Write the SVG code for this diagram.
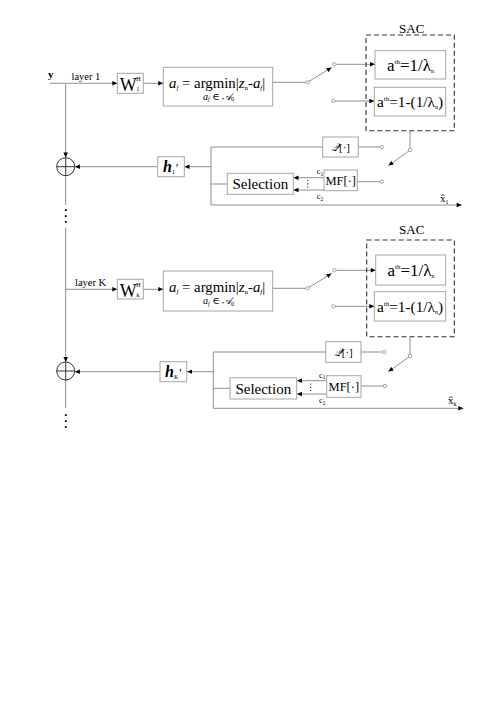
<svg xmlns="http://www.w3.org/2000/svg" width="496" height="701" viewBox="0 0 496 701">
<defs>
<marker id="ah" viewBox="0 0 10 10" refX="10" refY="5" markerWidth="5.5" markerHeight="5" markerUnits="userSpaceOnUse" orient="auto"><path d="M0,0.5 L10,5 L0,9.5 z" fill="#000"/></marker>
<style>
.ln{stroke:#8f8f8f;stroke-width:1;fill:none}
.bx{fill:#fff;stroke:#a6a6a6;stroke-width:1}
.sw{fill:#fff;stroke:#8f8f8f;stroke-width:0.8}
.dash{fill:none;stroke:#333;stroke-width:1.1;stroke-dasharray:5 3}
.t{font-family:"Liberation Serif","DejaVu Serif",serif;fill:#000}
.it{font-style:italic}
.dot{fill:#000}
</style>
</defs>
<rect width="496" height="701" fill="#fff"/>

<g id="connectors">
<path class="ln" d="M50,83.3 H117.3" marker-end="url(#ah)"/>
<path class="ln" d="M65.7,83.3 V157.6" marker-end="url(#ah)"/>
<path class="ln" d="M65.7,175.7 V205"/>
<path class="ln" d="M65.7,227.5 V362" marker-end="url(#ah)"/>
<path class="ln" d="M65.7,289.3 H117.3" marker-end="url(#ah)"/>
<path class="ln" d="M65.7,380 V408"/>
<path class="ln" d="M143.3,83.3 H163.3" marker-end="url(#ah)"/>
<path class="ln" d="M272.7,82.3 H306"/>
<path class="ln" d="M309,81.4 L331.6,67.6" marker-end="url(#ah)"/>
<path class="ln" d="M336,64.3 H375" marker-end="url(#ah)"/>
<path class="ln" d="M335,101 H374.3" marker-end="url(#ah)"/>
<path class="ln" d="M410,130.7 V148.3"/>
<path class="ln" d="M408.8,151.1 L388.4,165.6" marker-end="url(#ah)"/>
<path class="ln" d="M322.7,147 H211 V205"/>
<path class="ln" d="M358.3,147 H380"/>
<path class="ln" d="M211,166.7 H184.5" marker-end="url(#ah)"/>
<path class="ln" d="M157.7,166.7 H74.9" marker-end="url(#ah)"/>
<path class="ln" d="M211,184 H227.3"/>
<path class="ln" d="M324,177.7 H293.5" marker-end="url(#ah)"/>
<path class="ln" d="M324,190 H293.5" marker-end="url(#ah)"/>
<path class="ln" d="M357.3,181.7 H380"/>
<path class="ln" d="M211,205 H461.7" marker-end="url(#ah)"/>
<path class="ln" d="M143.3,289.3 H163.3" marker-end="url(#ah)"/>
<path class="ln" d="M272.7,288.3 H306"/>
<path class="ln" d="M309,287.4 L331.6,273.5" marker-end="url(#ah)"/>
<path class="ln" d="M336,270.3 H375.7" marker-end="url(#ah)"/>
<path class="ln" d="M335,306.3 H374.3" marker-end="url(#ah)"/>
<path class="ln" d="M410,336.7 V354.3"/>
<path class="ln" d="M408.8,357.1 L388.4,371.6" marker-end="url(#ah)"/>
<path class="ln" d="M325.7,352 H213.3 V408.3"/>
<path class="ln" d="M361,352 H382.6"/>
<path class="ln" d="M213.3,371.7 H187.2" marker-end="url(#ah)"/>
<path class="ln" d="M160,371.7 H74.9" marker-end="url(#ah)"/>
<path class="ln" d="M213.3,388.3 H230"/>
<path class="ln" d="M326.7,380.7 H296.9" marker-end="url(#ah)"/>
<path class="ln" d="M326.7,394 H296.9" marker-end="url(#ah)"/>
<path class="ln" d="M361,386 H383.3"/>
<path class="ln" d="M213.3,408.3 H463.3" marker-end="url(#ah)"/>
<circle class="sw" cx="307.7" cy="82.3" r="1.7"/>
<circle class="sw" cx="334.3" cy="64.3" r="1.7"/>
<circle class="sw" cx="333.3" cy="101" r="1.7"/>
<circle class="sw" cx="410" cy="150" r="1.7"/>
<circle class="sw" cx="381.7" cy="147" r="1.7"/>
<circle class="sw" cx="381.7" cy="181.7" r="1.7"/>
<circle class="sw" cx="307.7" cy="288.3" r="1.7"/>
<circle class="sw" cx="334.3" cy="270.3" r="1.7"/>
<circle class="sw" cx="333.3" cy="306.3" r="1.7"/>
<circle class="sw" cx="410" cy="356" r="1.7"/>
<circle class="sw" cx="384.3" cy="352" r="1.7"/>
<circle class="sw" cx="385" cy="386" r="1.7"/>
<rect class="dot" x="64.9" y="209.2" width="1.8" height="1.8"/>
<rect class="dot" x="64.9" y="215.2" width="1.8" height="1.8"/>
<rect class="dot" x="64.9" y="221" width="1.8" height="1.8"/>
<rect class="dot" x="64.9" y="414.2" width="1.8" height="1.8"/>
<rect class="dot" x="64.9" y="420.2" width="1.8" height="1.8"/>
<rect class="dot" x="64.9" y="426.2" width="1.8" height="1.8"/>
<circle class="dot" cx="307.7" cy="180.5" r="0.6"/>
<circle class="dot" cx="307.7" cy="183.8" r="0.6"/>
<circle class="dot" cx="307.7" cy="187.1" r="0.6"/>
<circle class="dot" cx="310.7" cy="384" r="0.6"/>
<circle class="dot" cx="310.7" cy="387.3" r="0.6"/>
<circle class="dot" cx="310.7" cy="390.6" r="0.6"/>
</g>

<g id="labels" class="t">
<text x="48" y="78" font-size="11" font-weight="bold">y</text>
<text x="71.5" y="80" font-size="10.5">layer 1</text>
<text x="75" y="286" font-size="10.5">layer K</text>
<text x="316.7" y="174" font-size="8.5">c<tspan font-size="5.5" dy="1.5">1</tspan></text>
<text x="316.7" y="199" font-size="8.5">c<tspan font-size="5.5" dy="1.5">2</tspan></text>
<text x="319" y="377.5" font-size="8.5">c<tspan font-size="5.5" dy="1.5">1</tspan></text>
<text x="319" y="403" font-size="8.5">c<tspan font-size="5.5" dy="1.5">2</tspan></text>
<text x="440" y="202" font-size="11">x̂<tspan font-size="6" dy="2">1</tspan></text>
<text x="448" y="404" font-size="11">x̂<tspan font-size="6" dy="2">k</tspan></text>
</g>

<g id="W1">
<rect class="bx" x="117.3" y="73.3" width="26" height="20"/>
<text class="t" x="119.8" y="91" font-size="18">W</text>
<text class="t" x="136" y="81" font-size="6.5">H</text>
<text class="t" x="136.5" y="91" font-size="6">1</text>
</g>
<g id="argmin1">
<rect class="bx" x="163.3" y="67.3" width="109.4" height="38.7"/>
<text class="t" x="169" y="88" font-size="14.8"><tspan class="it">a</tspan><tspan class="it" font-size="7" dy="2">f</tspan><tspan dy="-2"> = argmin|</tspan><tspan class="it">z</tspan><tspan font-size="7" dy="2">n</tspan><tspan dy="-2">-</tspan><tspan class="it">a</tspan><tspan class="it" font-size="7" dy="2">f</tspan><tspan dy="-2">|</tspan></text>
<text class="t" x="203" y="99.5" font-size="10"><tspan class="it">a</tspan><tspan class="it" font-size="6" dy="1.5">f</tspan><tspan dy="-1.5"> ∈ </tspan><tspan class="it">𝒜</tspan><tspan font-size="6" dy="1.5">0</tspan></text>
</g>
<g id="SAC1">
<rect class="dash" x="366" y="35" width="88.3" height="95.7"/>
<text class="t" x="411.7" y="32.5" font-size="13" text-anchor="middle">SAC</text>
<rect class="bx" x="375" y="50.7" width="70.7" height="28.3"/>
<text class="t" x="410.5" y="70.5" font-size="17" text-anchor="middle">a<tspan font-size="7" dy="-7">th</tspan><tspan dy="7">=1/λ</tspan><tspan font-size="6" dy="2">n</tspan></text>
<rect class="bx" x="374.3" y="87.3" width="71.4" height="28.7"/>
<text class="t" x="410" y="106.5" font-size="15.3" text-anchor="middle">a<tspan font-size="7" dy="-6">th</tspan><tspan dy="6">=1-(1/λ</tspan><tspan font-size="6" dy="2">n</tspan><tspan dy="-2">)</tspan></text>
</g>
<g id="Q1">
<rect class="bx" x="322.7" y="137" width="35.6" height="20"/>
<text class="t" x="340.5" y="151" font-size="11" text-anchor="middle"><tspan class="it">𝒬</tspan>[·]</text>
</g>
<g id="MF1">
<rect class="bx" x="324" y="170" width="33.3" height="20.7"/>
<text class="t" x="340.7" y="184.5" font-size="12.5" text-anchor="middle">MF[·]</text>
</g>
<g id="Selection1">
<rect class="bx" x="227.3" y="173.3" width="66" height="21"/>
<text class="t" x="260.3" y="189" font-size="15" text-anchor="middle">Selection</text>
</g>
<g id="h1">
<rect class="bx" x="157.7" y="156.7" width="26.6" height="20"/>
<text class="t" x="163" y="171.5" font-size="16" font-weight="bold" font-style="italic">h<tspan font-size="6" font-weight="normal" font-style="normal" dy="2">1</tspan><tspan dy="-2" font-size="13" font-weight="normal">'</tspan></text>
</g>
<g id="sum1">
<circle cx="65.7" cy="166.7" r="9" fill="#fff" stroke="#333" stroke-width="1"/>
<path d="M56.7,166.7 H74.7 M65.7,157.7 V175.7" stroke="#333" stroke-width="1"/>
</g>

<g id="Wk">
<rect class="bx" x="117.3" y="279.3" width="26" height="19.7"/>
<text class="t" x="119.8" y="297" font-size="18">W</text>
<text class="t" x="136" y="287" font-size="6.5">H</text>
<text class="t" x="136.5" y="297" font-size="6">k</text>
</g>
<g id="argminK">
<rect class="bx" x="163.3" y="271" width="109.4" height="40"/>
<text class="t" x="169" y="292" font-size="14.8"><tspan class="it">a</tspan><tspan class="it" font-size="7" dy="2">f</tspan><tspan dy="-2"> = argmin|</tspan><tspan class="it">z</tspan><tspan font-size="7" dy="2">n</tspan><tspan dy="-2">-</tspan><tspan class="it">a</tspan><tspan class="it" font-size="7" dy="2">f</tspan><tspan dy="-2">|</tspan></text>
<text class="t" x="203" y="304" font-size="10"><tspan class="it">a</tspan><tspan class="it" font-size="6" dy="1.5">f</tspan><tspan dy="-1.5"> ∈ </tspan><tspan class="it">𝒜</tspan><tspan font-size="6" dy="1.5">0</tspan></text>
</g>
<g id="SACk">
<rect class="dash" x="366.7" y="240" width="87.6" height="96.7"/>
<text class="t" x="411.7" y="233.5" font-size="13" text-anchor="middle">SAC</text>
<rect class="bx" x="375.7" y="255" width="70" height="30"/>
<text class="t" x="411" y="275.5" font-size="17" text-anchor="middle">a<tspan font-size="7" dy="-7">th</tspan><tspan dy="7">=1/λ</tspan><tspan font-size="6" dy="2">n</tspan></text>
<rect class="bx" x="374.3" y="291.7" width="71.4" height="29.3"/>
<text class="t" x="410" y="311.5" font-size="15.3" text-anchor="middle">a<tspan font-size="7" dy="-6">th</tspan><tspan dy="6">=1-(1/λ</tspan><tspan font-size="6" dy="2">n</tspan><tspan dy="-2">)</tspan></text>
</g>
<g id="Qk">
<rect class="bx" x="325.7" y="341.7" width="35.3" height="20.6"/>
<text class="t" x="343.3" y="356" font-size="11" text-anchor="middle"><tspan class="it">𝒬</tspan>[·]</text>
</g>
<g id="MFk">
<rect class="bx" x="326.7" y="375.7" width="34.3" height="21.6"/>
<text class="t" x="343.8" y="390.5" font-size="12.5" text-anchor="middle">MF[·]</text>
</g>
<g id="SelectionK">
<rect class="bx" x="230" y="377.7" width="66.7" height="21.3"/>
<text class="t" x="263.3" y="393.5" font-size="15" text-anchor="middle">Selection</text>
</g>
<g id="hK">
<rect class="bx" x="160" y="361.7" width="26.7" height="20"/>
<text class="t" x="165" y="376.5" font-size="16" font-weight="bold" font-style="italic">h<tspan font-size="6" font-weight="normal" font-style="normal" dy="2">K</tspan><tspan dy="-2" font-size="13" font-weight="normal">'</tspan></text>
</g>
<g id="sumK">
<circle cx="65.7" cy="371" r="9" fill="#fff" stroke="#333" stroke-width="1"/>
<path d="M56.7,371 H74.7 M65.7,362 V380" stroke="#333" stroke-width="1"/>
</g>
</svg>
